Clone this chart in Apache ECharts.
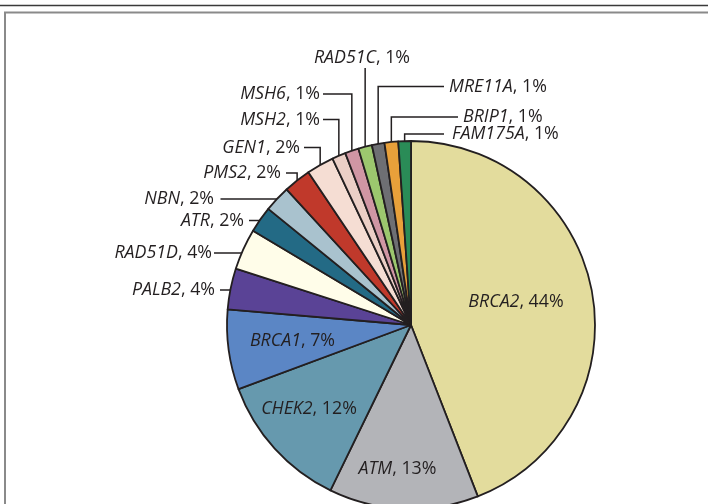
<!DOCTYPE html>
<html>
<head>
<meta charset="utf-8">
<script src="https://cdn.jsdelivr.net/npm/echarts@6/dist/echarts.min.js"></script>
<style>
  html, body { margin: 0; padding: 0; background: #ffffff; }
  #chart { width: 708px; height: 504px; }
</style>
</head>
<body>
<div id="chart"></div>
<script>
// ---- data ----
const categories = ['BRCA2', 'ATM', 'CHEK2', 'BRCA1', 'PALB2', 'RAD51D', 'ATR', 'NBN',
                    'PMS2', 'GEN1', 'MSH2', 'MSH6', 'RAD51C', 'MRE11A', 'BRIP1', 'FAM175A'];
const shares = [44.0, 13.1, 12.1, 7.0, 3.6, 3.6, 2.3, 2.3, 2.4, 2.4, 1.2, 1.2, 1.2, 1.1, 1.2, 1.1];
const percentLabels = [44, 13, 12, 7, 4, 4, 2, 2, 2, 2, 1, 1, 1, 1, 1, 1];
const colors = ['#E3DC9D', '#B3B4B8', '#6699AE', '#5B86C5', '#5A4396', '#FFFDE9', '#236A85', '#A9C2CE',
                '#C0392B', '#F5DDD3', '#EBCFC6', '#D096A4', '#9CC76E', '#6E6F73', '#E8A03A', '#2A8C57'];

// ---- layout (label placement, not data) ----
const CX = 411, CY = 325, R = 184;
const FONT = 'Open Sans';
const FS = 17.8;
const INK = '#231F20';
const placement = {
  BRCA2:  { kind: 'in', x: 516, y: 302 },
  ATM:    { kind: 'in', x: 397.5, y: 469 },
  CHEK2:  { kind: 'in', x: 309, y: 409 },
  BRCA1:  { kind: 'in', x: 292.5, y: 340.5 },
  PALB2:  { kind: 'h', align: 'right', x: 215, y: 290, lx: 220 },
  RAD51D: { kind: 'h', align: 'right', x: 212, y: 253, lx: 214 },
  ATR:    { kind: 'h', align: 'right', x: 244, y: 220.5, lx: 249 },
  NBN:    { kind: 'h', align: 'right', x: 214, y: 199, lx: 220.5 },
  PMS2:   { kind: 'e', align: 'right', x: 281, y: 173, lx: 286 },
  GEN1:   { kind: 'e', align: 'right', x: 300, y: 147.5, lx: 304 },
  MSH2:   { kind: 'e', align: 'right', x: 320, y: 119.5, lx: 323 },
  MSH6:   { kind: 'e', align: 'right', x: 320, y: 94, lx: 323 },
  RAD51C: { kind: 'v', align: 'center', x: 362, y: 57.5, ly: 68 },
  MRE11A: { kind: 'e', align: 'left', x: 449, y: 86.5, lx: 444 },
  BRIP1:  { kind: 'e', align: 'left', x: 463, y: 117, lx: 458 },
  FAM175A:{ kind: 'e', align: 'left', x: 452, y: 134, lx: 444 }
};

const data = categories.map((name, i) => {
  const inside = placement[name].kind === 'in';
  return {
    name: name,
    value: shares[i],
    itemStyle: { color: colors[i] },
    label: { position: inside ? 'inside' : 'outside' },
    labelLine: { show: !inside }
  };
});

const chart = echarts.init(document.getElementById('chart'), null, { renderer: 'canvas' });
chart.setOption({
  animation: false,
  backgroundColor: '#ffffff',
  graphic: [
    { type: 'line', silent: true, shape: { x1: 0, y1: 5.5, x2: 708, y2: 5.5 },
      style: { stroke: '#3a3a3a', lineWidth: 1.6 } },
    { type: 'line', silent: true, shape: { x1: 4, y1: 12.5, x2: 708, y2: 12.5 },
      style: { stroke: '#8a8a8a', lineWidth: 2 } },
    { type: 'line', silent: true, shape: { x1: 5, y1: 12, x2: 5, y2: 504 },
      style: { stroke: '#8a8a8a', lineWidth: 2 } }
  ],
  series: [{
    type: 'pie',
    center: [CX, CY],
    radius: R,
    startAngle: 90,
    clockwise: true,
    avoidLabelOverlap: false,
    emphasis: { disabled: true },
    itemStyle: { borderColor: INK, borderWidth: 1.8 },
    label: {
      formatter: p => '{i|' + p.name + '}{n|, ' + percentLabels[p.dataIndex] + '%}',
      rich: {
        i: { fontFamily: FONT, fontStyle: 'italic', fontSize: FS, color: INK },
        n: { fontFamily: FONT, fontSize: FS, color: INK }
      }
    },
    labelLine: { length: 10, length2: 10, lineStyle: { color: INK, width: 1.5 } },
    labelLayout: function (params) {
      const name = categories[params.dataIndex];
      const pl = placement[name];
      if (pl.kind === 'in') {
        return { x: pl.x, y: pl.y, align: 'center', verticalAlign: 'middle' };
      }
      const pts = params.labelLinePoints;
      const ex = pts[0][0], ey = pts[0][1];
      let linePts;
      if (pl.kind === 'h') {
        const dy = pl.y - CY;
        const edgeX = CX - Math.sqrt(R * R - dy * dy);
        linePts = [[edgeX, pl.y], [pl.lx, pl.y], [pl.lx, pl.y]];
      } else if (pl.kind === 'v') {
        linePts = [[ex, ey], [ex, pl.ly], [ex, pl.ly]];
      } else {
        linePts = [[ex, ey], [ex, pl.y], [pl.lx, pl.y]];
      }
      return { x: pl.x, y: pl.y, align: pl.align, verticalAlign: 'middle', labelLinePoints: linePts };
    },
    data: data
  }]
});
</script>
</body>
</html>
